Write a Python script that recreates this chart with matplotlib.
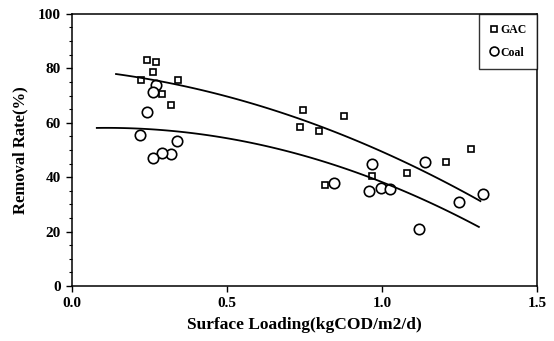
import numpy as np
import matplotlib
matplotlib.use("Agg")
import matplotlib.pyplot as plt
from matplotlib.ticker import MultipleLocator

# GAC data (squares)
gac_x = [0.241, 0.272, 0.262, 0.223, 0.342, 0.291, 0.319, 0.735, 0.746, 0.877,
         0.798, 1.288, 1.207, 1.081, 0.969, 0.816]
gac_y = [83.2, 82.3, 78.7, 75.7, 75.7, 70.6, 66.4, 58.6, 64.6, 62.3,
         56.9, 50.3, 45.6, 41.6, 40.5, 37.2]

# Coal data (circles)
coal_x = [0.271, 0.260, 0.241, 0.220, 0.340, 0.319, 0.290, 0.261, 0.968, 1.139,
          0.846, 0.957, 0.998, 1.027, 1.248, 1.326, 1.119]
coal_y = [74.0, 71.3, 63.9, 55.4, 53.4, 48.4, 49.0, 46.9, 44.9, 45.6,
          37.9, 35.0, 36.0, 35.5, 31.0, 33.9, 20.9]

# Fitted curves (quadratic coefficients a + b x + c x^2)
gac_fit = [79.72, -9.94, -20.39]
gac_fit_range = [0.142, 1.318]
coal_fit = [57.8, 5.61, -25.21]
coal_fit_range = [0.08, 1.313]

plt.rcParams['font.family'] = ['Liberation Serif', 'DejaVu Serif']
plt.rcParams['font.weight'] = 'bold'

fig = plt.figure(figsize=(5.54, 3.41), dpi=100)
ax = fig.add_axes([0.130, 0.1613, 0.839, 0.798])

ax.plot(gac_x, gac_y, linestyle='none', marker='s', ms=4.5, mfc='white',
        mec='black', mew=1.2, label='GAC')
ax.plot(coal_x, coal_y, linestyle='none', marker='o', ms=7.5, mfc='white',
        mec='black', mew=1.2, label='Coal')

for coef, rng in [(gac_fit, gac_fit_range), (coal_fit, coal_fit_range)]:
    xs = np.linspace(rng[0], rng[1], 100)
    ys = coef[0] + coef[1] * xs + coef[2] * xs ** 2
    ax.plot(xs, ys, color='black', lw=1.3)

ax.set_xlim(0, 1.5)
ax.set_ylim(0, 100)
ax.xaxis.set_major_locator(MultipleLocator(0.5))
ax.yaxis.set_major_locator(MultipleLocator(20))
ax.yaxis.set_minor_locator(MultipleLocator(5))
ax.xaxis.set_major_formatter(matplotlib.ticker.FormatStrFormatter('%.1f'))
ax.tick_params(axis='both', which='major', direction='out', length=4, width=1,
               labelsize=11, pad=4)
ax.tick_params(axis='y', which='minor', direction='out', length=2.5, width=0.8)
for lab in ax.get_xticklabels() + ax.get_yticklabels():
    lab.set_fontweight('bold')
for s in ax.spines.values():
    s.set_linewidth(1.1)

ax.set_xlabel('Surface Loading(kgCOD/m2/d)', fontsize=12.5, fontweight='bold', labelpad=5)
ax.set_ylabel('Removal Rate(%)', fontsize=12, fontweight='bold', labelpad=7)

leg = ax.legend(loc='upper right', fontsize=8.5, frameon=True, fancybox=False,
                edgecolor='black', borderpad=0.85, handletextpad=0.15,
                handlelength=0.8, borderaxespad=0, labelspacing=0.9,
                markerscale=0.85)
leg.get_frame().set_linewidth(1.0)
for t in leg.get_texts():
    t.set_fontweight('bold')

fig.savefig('out.png', dpi=100)
